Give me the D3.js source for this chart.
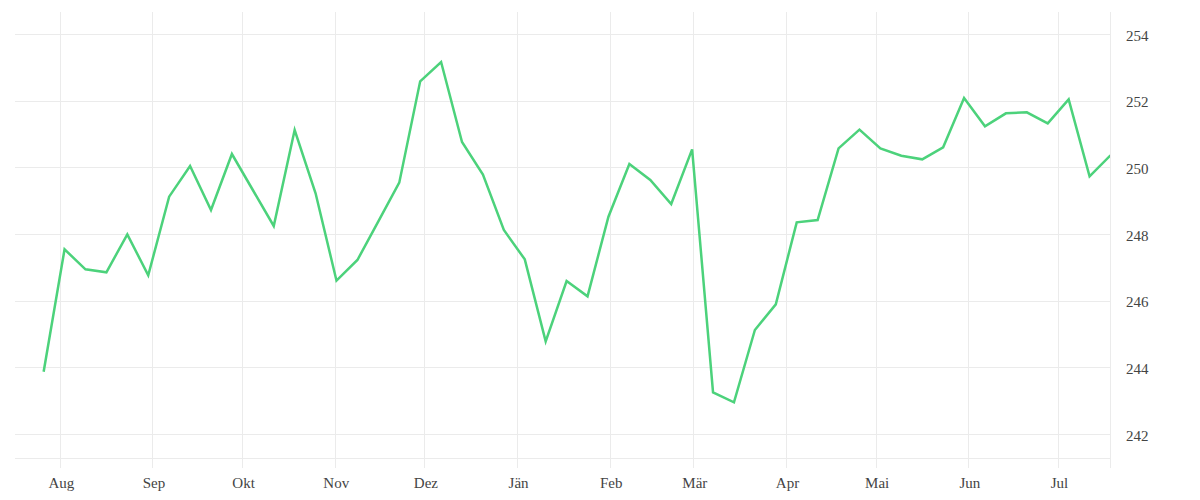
<!DOCTYPE html>
<html>
<head>
<meta charset="utf-8">
<script src="https://cdn.jsdelivr.net/npm/d3@7"></script>
<style>
  body { margin: 0; background: #fff; }
  svg text { font-family: "Liberation Serif", "DejaVu Serif", serif; font-size: 15px; fill: #444; }
</style>
</head>
<body>
<svg id="chart" width="1200" height="500"></svg>
<script>
// weekly values, first week starts late July
const startDate = "2022-07-26T14:00";
const values = [
  243.87, 247.54, 246.94, 246.85, 247.99, 246.76, 249.12, 250.04, 248.72, 250.40,
  249.32, 248.24, 251.12, 249.22, 246.60, 247.22, 248.38, 249.54, 252.58, 253.16,
  250.76, 249.78, 248.12, 247.24, 244.78, 246.59, 246.13, 248.52, 250.10, 249.62,
  248.90, 250.54, 243.25, 242.95, 245.12, 245.89, 248.35, 248.42, 250.57, 251.13,
  250.57, 250.35, 250.24, 250.60, 252.08, 251.23, 251.62, 251.65, 251.32, 252.04,
  249.73, 250.36
];
const monthNames = ["Jän", "Feb", "Mär", "Apr", "Mai", "Jun", "Jul", "Aug", "Sep", "Okt", "Nov", "Dez"];
const yTicks = [242, 244, 246, 248, 250, 252, 254];

const start = new Date(startDate);
const data = values.map((v, i) => ({ date: d3.timeDay.offset(start, 7 * i), value: v }));

const svg = d3.select("#chart");
const m = { left: 15, right: 1110, top: 12, bottom: 458 };

const x = d3.scaleTime()
  .domain([new Date(2022, 6, 17, 0), new Date(2023, 6, 18, 10)])
  .range([m.left, m.right]);

const y = d3.scaleLinear()
  .domain([241.28, 254.66])
  .range([m.bottom, m.top]);

const grid = svg.append("g").attr("stroke", "#ebebeb").attr("stroke-width", 1);

// horizontal grid
grid.selectAll(".hg")
  .data(yTicks)
  .join("line")
  .attr("x1", m.left).attr("x2", m.right)
  .attr("y1", d => Math.round(y(d)) + 0.5).attr("y2", d => Math.round(y(d)) + 0.5);

// bottom baseline
grid.append("line")
  .attr("x1", m.left).attr("x2", m.right)
  .attr("y1", m.bottom + 0.5).attr("y2", m.bottom + 0.5);

// vertical month grid (runs past the baseline as ticks)
const months = x.ticks(d3.timeMonth.every(1));
grid.selectAll(".vg")
  .data(months)
  .join("line")
  .attr("x1", d => Math.round(x(d)) + 0.5).attr("x2", d => Math.round(x(d)) + 0.5)
  .attr("y1", m.top).attr("y2", m.bottom + 10);

// right edge line
grid.append("line")
  .attr("x1", m.right + 0.5).attr("x2", m.right + 0.5)
  .attr("y1", m.top).attr("y2", m.bottom + 10);

// x labels
const xAxis = d3.axisBottom(x)
  .ticks(d3.timeMonth.every(1))
  .tickFormat(d => monthNames[d.getMonth()])
  .tickSize(0)
  .tickPadding(0);

svg.append("g")
  .attr("transform", `translate(1,${m.bottom + 19})`)
  .call(xAxis)
  .call(g => g.select(".domain").remove())
  .selectAll("text")
  .attr("font-family", null).attr("font-size", null)
  .attr("fill", null)
  .attr("dy", "0.71em");

// y labels on the right
const yAxis = d3.axisRight(y)
  .tickValues(yTicks)
  .tickSize(0)
  .tickPadding(0);

svg.append("g")
  .attr("transform", `translate(${m.right + 16},0)`)
  .call(yAxis)
  .call(g => g.select(".domain").remove())
  .selectAll("text")
  .attr("font-family", null).attr("font-size", null)
  .attr("fill", null)
  .attr("dy", "0.42em");

svg.append("clipPath").attr("id", "clip")
  .append("rect")
  .attr("x", m.left).attr("y", m.top)
  .attr("width", m.right - m.left).attr("height", m.bottom - m.top);

const line = d3.line()
  .x(d => x(d.date))
  .y(d => y(d.value));

svg.append("path")
  .datum(data)
  .attr("clip-path", "url(#clip)")
  .attr("fill", "none")
  .attr("stroke", "#4cd27b")
  .attr("stroke-width", 2.5)
  .attr("d", line);
</script>
</body>
</html>
